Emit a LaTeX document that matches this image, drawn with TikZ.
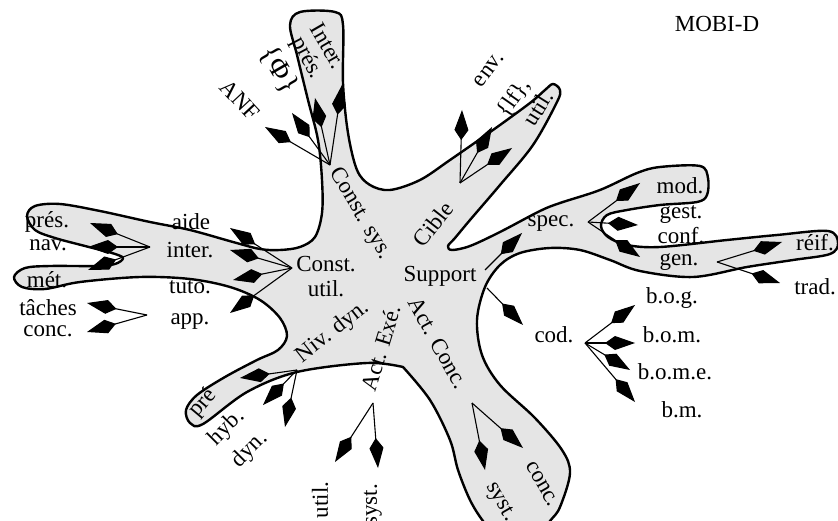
\documentclass[tikz,border=0pt]{standalone}
\usepackage{fontspec}
\setmainfont{Liberation Serif}
\usetikzlibrary{arrows.meta}
\begin{document}
\begin{tikzpicture}[x=1pt,y=-1pt,
  lbl/.style={font=\fontsize{23}{25}\selectfont, inner sep=0pt, anchor=center},
  link/.style={line width=1.1pt, -{Kite[length=30pt,width=14pt,inset=10pt]}},
  blob/.style={fill=black!10, draw=black, line width=2.4pt, line join=round}]
\useasboundingbox (0,0) rectangle (838,521);
\clip (0,0) rectangle (838,521);

% the many-armed domain outline
\path[blob] plot[smooth, tension=0.55] coordinates {
 (403,367) (430,400) (450,440) (458,470) (470,500) (483,521) (500,540) (530,545)
 (550,521) (560,507) (570,473) (562,450) (535,418) (500,385) (482,355) (477,320) (485,287)
 (500,265) (520,253) (550,248) (580,250) (610,260) (640,271) (693,277) (747,267)
 (793,260) (830,254) (838,243) (828,231) (777,235) (727,240) (660,247) (627,245)
 (608,237) (601,226) (607,215) (627,210) (660,205) (697,202) (707,195) (708,178)
 (700,166) (660,167) (637,173) (600,190) (560,203) (540,211) (500,232) (470,246)
 (452,250) (448,246) (455,238) (470,220) (500,185) (533,145) (557,102) (560,90)
 (553,84) (545,90) (530,103) (493,130) (450,160) (420,180) (390,190) (370,185)
 (357,170) (348,133) (343,83) (343,25) (335,12) (300,12) (290,25) (297,55)
 (308,100) (318,140) (322,180) (322,213) (315,237) (300,247) (280,250) (260,249)
 (233,242) (190,230) (150,222) (100,211) (60,204) (35,206) (27,216) (35,230)
 (55,238) (85,246) (112,253) (123,258) (115,264) (95,266) (50,266) (25,268)
 (14,277) (22,287) (45,289) (80,282) (140,277) (190,279) (230,287) (260,300)
 (280,318) (287,336) (278,350) (257,360) (225,377) (197,395) (186,410) (190,423)
 (203,424) (247,392) (297,372) (367,363) (403,367)} -- cycle;

% branching points
\coordinate (hSys) at (330,165);
\coordinate (hCib) at (460,183);
\coordinate (hSpec) at (588,222);
\coordinate (hGen) at (717,262);
\coordinate (hCod) at (585,343);
\coordinate (hExe) at (373,403);
\coordinate (hConc) at (472,403);
\coordinate (hDyn) at (297,370);
\coordinate (hUtil) at (292,268);
\coordinate (hInter) at (150,247);
\coordinate (hApp) at (147,315);
\coordinate (sA) at (485,270);
\coordinate (sB) at (487,288);

% arrow ends
\foreach \n/\x/\y in {tANF/265/127, tPhi/292/113, tPres/315/98, tInter/342/85,
  tEnv/462/110, tLf/492/127, tUtilC/512/148,
  tMod/640/183, tGest/638/225, tGen/640/257,
  tReif/782/242, tTrad/780/283,
  tSpec/522/233, tCod/523/325,
  tBog/635/305, tBom/635/343, tBome/630/370, tBm/635/402,
  tUtilE/335/462, tSystE/378/468,
  tSystC/485/470, tConcC/523/448,
  tPre/240/378, tHyb/263/405, tDyn/285/427,
  tAide/230/228, tInt/230/250, tTuto/233/280, tApp/230/313,
  tPresL/90/223, tNav/88/247, tMet/88/270,
  tTach/87/303, tConcL/87/332}
  \coordinate (\n) at (\x,\y);

% connectors
\foreach \a/\b in {hSys/tANF, hSys/tPhi, hSys/tPres, hSys/tInter,
  hCib/tEnv, hCib/tLf, hCib/tUtilC,
  hSpec/tMod, hSpec/tGest, hSpec/tGen,
  hGen/tReif, hGen/tTrad,
  sA/tSpec, sB/tCod,
  hCod/tBog, hCod/tBom, hCod/tBome, hCod/tBm,
  hExe/tUtilE, hExe/tSystE,
  hConc/tSystC, hConc/tConcC,
  hDyn/tPre, hDyn/tHyb, hDyn/tDyn,
  hUtil/tAide, hUtil/tInt, hUtil/tTuto, hUtil/tApp,
  hInter/tPresL, hInter/tNav, hInter/tMet,
  hApp/tTach, hApp/tConcL}
  \draw[link] (\a) -- (\b);

% labels
\node[lbl] (title) at (717,24) {MOBI-D};
\node[lbl, rotate=-60] (lInter) at (328,46) {Inter.};
\node[lbl, rotate=-62] (lPres) at (307,58) {prés.};
\node[lbl, rotate=-60, font=\fontsize{29}{31}\selectfont] (lPhi) at (279,70) {\{Φ\}};
\node[lbl, rotate=-47] (lANF) at (240,100) {ANF};
\node[lbl, rotate=-59] (lSys) at (360,214) {Const. sys.};
\node[lbl, rotate=52] (lCible) at (433,224) {Cible};
\node[lbl, rotate=53] (lEnv) at (489,70) {env.};
\node[lbl, rotate=55] (lLf) at (514,98) {\{lf\},};
\node[lbl, rotate=58] (lUtilC) at (538,108) {util.};
\node[lbl] (lSpec) at (551,224) {spec.};
\node[lbl] (lMod) at (680,186) {mod.};
\node[lbl] (lGest) at (681,215) {gest.};
\node[lbl] (lConf) at (681,236) {conf.};
\node[lbl] (lGen) at (679,262) {gen.};
\node[lbl] (lReif) at (815,243) {réif.};
\node[lbl] (lTrad) at (815,287) {trad.};
\node[lbl] (lSupport) at (440,276) {Support};
\node[lbl] (lCod) at (554,335) {cod.};
\node[lbl] (lBog) at (672,298) {b.o.g.};
\node[lbl] (lBom) at (672,335) {b.o.m.};
\node[lbl] (lBome) at (675,372) {b.o.m.e.};
\node[lbl] (lBm) at (682,410) {b.m.};
\node[lbl, rotate=-61] (lActC) at (438,343) {Act. Conc.};
\node[lbl, rotate=-60] (lConcC) at (542,484) {conc.};
\node[lbl, rotate=-60] (lSystC) at (500,502) {syst.};
\node[lbl, rotate=73] (lActE) at (381,348) {Act. Exé.};
\node[lbl, rotate=90] (lUtilE) at (320,500) {util.};
\node[lbl, rotate=90] (lSystE) at (373,505) {syst.};
\node[lbl, rotate=38] (lNiv) at (333,332) {Niv. dyn.};
\node[lbl, rotate=50] (lPre) at (203,403) {pré};
\node[lbl, rotate=45] (lHyb) at (227,428) {hyb.};
\node[lbl, rotate=45] (lDyn) at (250,450) {dyn.};
\node[lbl, align=center] (lUtil) at (326,277) {Const.\\util.};
\node[lbl] (lAide) at (191,222) {aide};
\node[lbl] (lInt) at (190,250) {inter.};
\node[lbl] (lTuto) at (190,287) {tuto.};
\node[lbl] (lApp) at (190,322) {app.};
\node[lbl] (lPresL) at (47,222) {prés.};
\node[lbl] (lNav) at (48,245) {nav.};
\node[lbl] (lMet) at (47,280) {mét.};
\node[lbl] (lTach) at (48,308) {tâches};
\node[lbl] (lConcL) at (48,331) {conc.};
\end{tikzpicture}
\end{document}
